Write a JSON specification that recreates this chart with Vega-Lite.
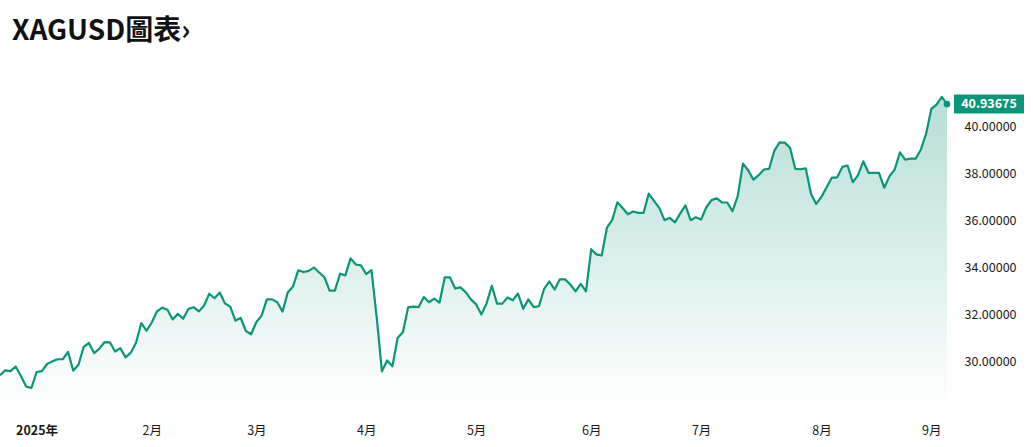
{
  "$schema": "https://vega.github.io/schema/vega-lite/v6.json",
  "autosize": {"type": "none"},
  "width": 947,
  "height": 330,
  "padding": {"left": 0, "top": 79, "right": 86, "bottom": 38},
  "background": "#ffffff",
  "config": {"view": {"stroke": null}, "font": "Noto Sans CJK TC"},
  "title": {
    "text": "XAGUSD圖表›",
    "anchor": "start",
    "frame": "group",
    "dx": 12,
    "offset": 11,
    "baseline": "alphabetic",
    "font": "Noto Sans CJK TC",
    "fontSize": 28,
    "fontWeight": "bold",
    "color": "#111111"
  },
  "data": {"values": [
    {"date": "2024-12-20", "close": 29.43},
    {"date": "2024-12-23", "close": 29.64},
    {"date": "2024-12-24", "close": 29.61},
    {"date": "2024-12-26", "close": 29.80},
    {"date": "2024-12-27", "close": 29.40},
    {"date": "2024-12-30", "close": 28.95},
    {"date": "2024-12-31", "close": 28.89},
    {"date": "2025-01-02", "close": 29.57},
    {"date": "2025-01-03", "close": 29.61},
    {"date": "2025-01-06", "close": 29.91},
    {"date": "2025-01-07", "close": 30.02},
    {"date": "2025-01-08", "close": 30.11},
    {"date": "2025-01-09", "close": 30.11},
    {"date": "2025-01-10", "close": 30.42},
    {"date": "2025-01-13", "close": 29.63},
    {"date": "2025-01-14", "close": 29.88},
    {"date": "2025-01-15", "close": 30.64},
    {"date": "2025-01-16", "close": 30.80},
    {"date": "2025-01-17", "close": 30.37},
    {"date": "2025-01-20", "close": 30.56},
    {"date": "2025-01-21", "close": 30.84},
    {"date": "2025-01-22", "close": 30.83},
    {"date": "2025-01-23", "close": 30.44},
    {"date": "2025-01-24", "close": 30.58},
    {"date": "2025-01-27", "close": 30.19},
    {"date": "2025-01-28", "close": 30.39},
    {"date": "2025-01-29", "close": 30.81},
    {"date": "2025-01-30", "close": 31.64},
    {"date": "2025-01-31", "close": 31.32},
    {"date": "2025-02-03", "close": 31.67},
    {"date": "2025-02-04", "close": 32.14},
    {"date": "2025-02-05", "close": 32.30},
    {"date": "2025-02-06", "close": 32.21},
    {"date": "2025-02-07", "close": 31.80},
    {"date": "2025-02-10", "close": 32.04},
    {"date": "2025-02-11", "close": 31.83},
    {"date": "2025-02-12", "close": 32.24},
    {"date": "2025-02-13", "close": 32.32},
    {"date": "2025-02-14", "close": 32.14},
    {"date": "2025-02-17", "close": 32.39},
    {"date": "2025-02-18", "close": 32.89},
    {"date": "2025-02-19", "close": 32.70},
    {"date": "2025-02-20", "close": 32.94},
    {"date": "2025-02-21", "close": 32.48},
    {"date": "2025-02-24", "close": 32.34},
    {"date": "2025-02-25", "close": 31.75},
    {"date": "2025-02-26", "close": 31.86},
    {"date": "2025-02-27", "close": 31.31},
    {"date": "2025-02-28", "close": 31.17},
    {"date": "2025-03-03", "close": 31.69},
    {"date": "2025-03-04", "close": 31.96},
    {"date": "2025-03-05", "close": 32.65},
    {"date": "2025-03-06", "close": 32.65},
    {"date": "2025-03-07", "close": 32.53},
    {"date": "2025-03-10", "close": 32.13},
    {"date": "2025-03-11", "close": 32.94},
    {"date": "2025-03-12", "close": 33.20},
    {"date": "2025-03-13", "close": 33.88},
    {"date": "2025-03-14", "close": 33.81},
    {"date": "2025-03-17", "close": 33.86},
    {"date": "2025-03-18", "close": 34.00},
    {"date": "2025-03-19", "close": 33.79},
    {"date": "2025-03-20", "close": 33.59},
    {"date": "2025-03-21", "close": 33.02},
    {"date": "2025-03-24", "close": 33.02},
    {"date": "2025-03-25", "close": 33.74},
    {"date": "2025-03-26", "close": 33.67},
    {"date": "2025-03-27", "close": 34.39},
    {"date": "2025-03-28", "close": 34.13},
    {"date": "2025-03-31", "close": 34.09},
    {"date": "2025-04-01", "close": 33.72},
    {"date": "2025-04-02", "close": 33.89},
    {"date": "2025-04-03", "close": 31.89},
    {"date": "2025-04-04", "close": 29.60},
    {"date": "2025-04-07", "close": 30.06},
    {"date": "2025-04-08", "close": 29.81},
    {"date": "2025-04-09", "close": 31.01},
    {"date": "2025-04-10", "close": 31.26},
    {"date": "2025-04-11", "close": 32.31},
    {"date": "2025-04-14", "close": 32.34},
    {"date": "2025-04-15", "close": 32.32},
    {"date": "2025-04-16", "close": 32.75},
    {"date": "2025-04-17", "close": 32.53},
    {"date": "2025-04-21", "close": 32.68},
    {"date": "2025-04-22", "close": 32.51},
    {"date": "2025-04-23", "close": 33.58},
    {"date": "2025-04-24", "close": 33.58},
    {"date": "2025-04-25", "close": 33.11},
    {"date": "2025-04-28", "close": 33.16},
    {"date": "2025-04-29", "close": 32.96},
    {"date": "2025-04-30", "close": 32.65},
    {"date": "2025-05-01", "close": 32.44},
    {"date": "2025-05-02", "close": 32.01},
    {"date": "2025-05-05", "close": 32.48},
    {"date": "2025-05-06", "close": 33.23},
    {"date": "2025-05-07", "close": 32.47},
    {"date": "2025-05-08", "close": 32.47},
    {"date": "2025-05-09", "close": 32.73},
    {"date": "2025-05-12", "close": 32.61},
    {"date": "2025-05-13", "close": 32.90},
    {"date": "2025-05-14", "close": 32.25},
    {"date": "2025-05-15", "close": 32.65},
    {"date": "2025-05-16", "close": 32.32},
    {"date": "2025-05-19", "close": 32.36},
    {"date": "2025-05-20", "close": 33.10},
    {"date": "2025-05-21", "close": 33.41},
    {"date": "2025-05-22", "close": 33.07},
    {"date": "2025-05-23", "close": 33.50},
    {"date": "2025-05-26", "close": 33.50},
    {"date": "2025-05-27", "close": 33.28},
    {"date": "2025-05-28", "close": 32.99},
    {"date": "2025-05-29", "close": 33.31},
    {"date": "2025-05-30", "close": 32.99},
    {"date": "2025-06-02", "close": 34.78},
    {"date": "2025-06-03", "close": 34.56},
    {"date": "2025-06-04", "close": 34.51},
    {"date": "2025-06-05", "close": 35.69},
    {"date": "2025-06-06", "close": 36.01},
    {"date": "2025-06-09", "close": 36.77},
    {"date": "2025-06-10", "close": 36.53},
    {"date": "2025-06-11", "close": 36.26},
    {"date": "2025-06-12", "close": 36.38},
    {"date": "2025-06-13", "close": 36.32},
    {"date": "2025-06-16", "close": 36.32},
    {"date": "2025-06-17", "close": 37.14},
    {"date": "2025-06-18", "close": 36.83},
    {"date": "2025-06-19", "close": 36.53},
    {"date": "2025-06-20", "close": 36.01},
    {"date": "2025-06-23", "close": 36.11},
    {"date": "2025-06-24", "close": 35.92},
    {"date": "2025-06-25", "close": 36.29},
    {"date": "2025-06-26", "close": 36.64},
    {"date": "2025-06-27", "close": 36.01},
    {"date": "2025-06-30", "close": 36.14},
    {"date": "2025-07-01", "close": 36.04},
    {"date": "2025-07-02", "close": 36.56},
    {"date": "2025-07-03", "close": 36.86},
    {"date": "2025-07-04", "close": 36.94},
    {"date": "2025-07-07", "close": 36.77},
    {"date": "2025-07-08", "close": 36.76},
    {"date": "2025-07-09", "close": 36.39},
    {"date": "2025-07-10", "close": 37.03},
    {"date": "2025-07-11", "close": 38.41},
    {"date": "2025-07-14", "close": 38.13},
    {"date": "2025-07-15", "close": 37.73},
    {"date": "2025-07-16", "close": 37.92},
    {"date": "2025-07-17", "close": 38.16},
    {"date": "2025-07-18", "close": 38.19},
    {"date": "2025-07-21", "close": 38.96},
    {"date": "2025-07-22", "close": 39.31},
    {"date": "2025-07-23", "close": 39.30},
    {"date": "2025-07-24", "close": 39.08},
    {"date": "2025-07-25", "close": 38.19},
    {"date": "2025-07-28", "close": 38.17},
    {"date": "2025-07-29", "close": 38.21},
    {"date": "2025-07-30", "close": 37.13},
    {"date": "2025-07-31", "close": 36.70},
    {"date": "2025-08-01", "close": 37.00},
    {"date": "2025-08-04", "close": 37.41},
    {"date": "2025-08-05", "close": 37.82},
    {"date": "2025-08-06", "close": 37.83},
    {"date": "2025-08-07", "close": 38.27},
    {"date": "2025-08-08", "close": 38.33},
    {"date": "2025-08-11", "close": 37.62},
    {"date": "2025-08-12", "close": 37.92},
    {"date": "2025-08-13", "close": 38.51},
    {"date": "2025-08-14", "close": 38.02},
    {"date": "2025-08-15", "close": 38.02},
    {"date": "2025-08-18", "close": 38.02},
    {"date": "2025-08-19", "close": 37.39},
    {"date": "2025-08-20", "close": 37.87},
    {"date": "2025-08-21", "close": 38.16},
    {"date": "2025-08-22", "close": 38.89},
    {"date": "2025-08-25", "close": 38.58},
    {"date": "2025-08-26", "close": 38.62},
    {"date": "2025-08-27", "close": 38.62},
    {"date": "2025-08-28", "close": 39.00},
    {"date": "2025-08-29", "close": 39.67},
    {"date": "2025-09-01", "close": 40.73},
    {"date": "2025-09-02", "close": 40.91},
    {"date": "2025-09-03", "close": 41.24},
    {"date": "2025-09-04", "close": 40.93675}
  ]},
  "encoding": {
    "x": {
      "field": "date",
      "type": "ordinal",
      "scale": {"type": "point", "padding": 0},
      "axis": {
        "title": null,
        "orient": "bottom",
        "domain": false,
        "ticks": false,
        "grid": false,
        "labelAngle": 0,
        "labelPadding": 15,
        "labelFontSize": 12.5,
        "labelColor": "#1a1a1a",
        "labelFont": "Noto Sans CJK TC",
        "labelFontWeight": {"condition": {"test": "datum.value == '2025-01-02'", "value": "bold"}, "value": "normal"},
        "values": ["2025-01-02", "2025-02-03", "2025-03-03", "2025-04-01", "2025-05-01", "2025-06-02", "2025-07-01", "2025-08-01", "2025-09-01"],
        "labelExpr": "datum.value == '2025-01-02' ? '2025年' : (utcmonth(toDate(datum.value)) + 1) + '月'"
      }
    },
    "y": {
      "field": "close",
      "type": "quantitative",
      "scale": {"domain": [28, 42], "zero": false, "nice": false},
      "axis": {
        "title": null,
        "orient": "right",
        "domain": false,
        "ticks": false,
        "grid": false,
        "values": [30, 32, 34, 36, 38, 40],
        "format": ".5f",
        "labelPadding": 17,
        "labelFontSize": 12.5,
        "labelColor": "#1a1a1a",
        "labelFont": "Noto Sans CJK TC"
      }
    }
  },
  "layer": [
    {
      "mark": {
        "type": "area",
        "color": {
          "gradient": "linear",
          "x1": 1, "y1": 1, "x2": 1, "y2": 0,
          "stops": [
            {"offset": 0, "color": "rgba(14,148,120,0)"},
            {"offset": 1, "color": "rgba(14,148,120,0.3)"}
          ]
        }
      },
      "encoding": {"y2": {"datum": 28}}
    },
    {
      "mark": {"type": "line", "color": "#0e9478", "strokeWidth": 2.2, "strokeJoin": "round"}
    },
    {
      "transform": [{"filter": "datum.date == '2025-09-04'"}],
      "mark": {"type": "point", "filled": true, "color": "#0e9478", "size": 45, "opacity": 1}
    },
    {
      "transform": [{"filter": "datum.date == '2025-09-04'"}],
      "mark": {"type": "point", "filled": true, "color": "#0e9478", "opacity": 1, "size": 4900, "xOffset": 42, "shape": "M-1,-0.2714L1,-0.2714L1,0.2714L-1,0.2714Z"}
    },
    {
      "transform": [{"filter": "datum.date == '2025-09-04'"}],
      "mark": {"type": "text", "dx": 42, "align": "center", "baseline": "middle", "color": "#ffffff", "fontWeight": "bold", "fontSize": 12.5, "font": "Noto Sans CJK TC"},
      "encoding": {"text": {"field": "close", "type": "quantitative", "format": ".5f"}}
    }
  ]
}
